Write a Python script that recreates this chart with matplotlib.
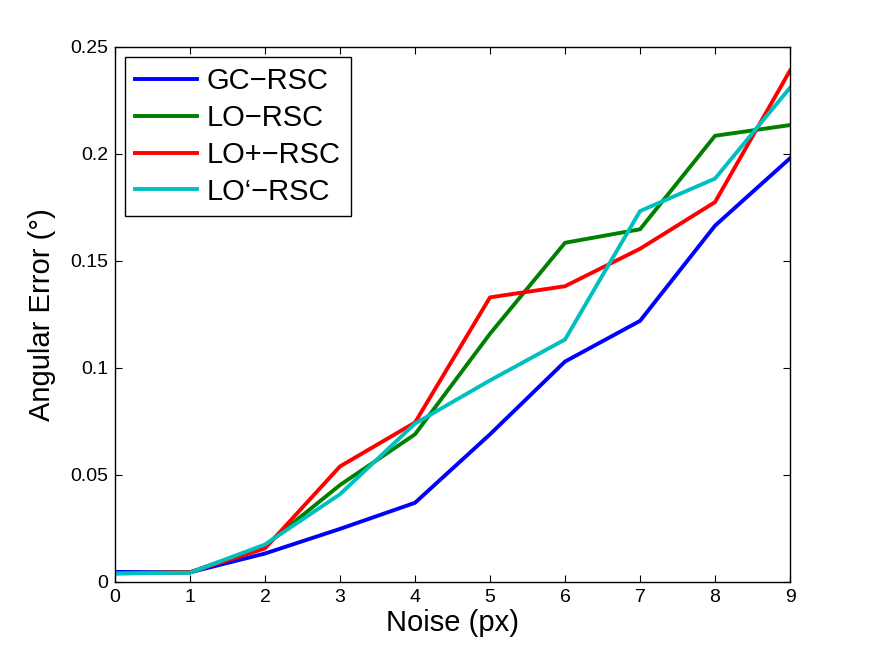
import matplotlib
matplotlib.use('Agg')
import matplotlib.pyplot as plt

plt.rcParams['font.family'] = ['Liberation Sans', 'DejaVu Sans']

noise = [0, 1, 2, 3, 4, 5, 6, 7, 8, 9]
gc_rsc = [0.0047, 0.0045, 0.0133, 0.0248, 0.0370, 0.0690, 0.1030, 0.1220, 0.1665, 0.1980]
lo_rsc = [0.0042, 0.0045, 0.0170, 0.0453, 0.0690, 0.1160, 0.1585, 0.1648, 0.2085, 0.2135]
lo_plus_rsc = [0.0040, 0.0045, 0.0157, 0.0540, 0.0745, 0.1330, 0.1382, 0.1557, 0.1775, 0.2390]
lo_prime_rsc = [0.0040, 0.0043, 0.0175, 0.0410, 0.0740, 0.0942, 0.1133, 0.1733, 0.1885, 0.2310]

fig = plt.figure(figsize=(8.75, 6.57), dpi=100)
ax = fig.add_axes([0.1314, 0.1142, 0.7715, 0.8143])

ax.plot(noise, gc_rsc, color=(0, 0, 1), lw=2.8, label='GC\u2212RSC')
ax.plot(noise, lo_rsc, color=(0, 0.5, 0), lw=2.8, label='LO\u2212RSC')
ax.plot(noise, lo_plus_rsc, color=(1, 0, 0), lw=2.8, label='LO+\u2212RSC')
ax.plot(noise, lo_prime_rsc, color=(0, 0.75, 0.75), lw=2.8, label='LO\u2018\u2212RSC')

ax.set_xlim(0, 9)
ax.set_ylim(0, 0.25)
ax.set_xticks(noise)
ax.set_yticks([0, 0.05, 0.1, 0.15, 0.2, 0.25])
ax.set_yticklabels(['0', '0.05', '0.1', '0.15', '0.2', '0.25'])
ax.tick_params(direction='in', top=True, right=True, labelsize=14, length=5, pad=5)
for side in ax.spines.values():
    side.set_linewidth(1.0)
ax.set_xlabel('Noise (px)', fontsize=21, labelpad=2)
ax.set_ylabel('Angular Error (\u00b0)', fontsize=21, labelpad=10)

leg = ax.legend(loc='upper left', fontsize=21, fancybox=False, framealpha=1,
                edgecolor='black', handlelength=2.1, borderaxespad=0.35,
                labelspacing=0.3, handletextpad=0.35, borderpad=0.35)
leg.get_frame().set_linewidth(1.0)

fig.savefig('out.png', dpi=100)
